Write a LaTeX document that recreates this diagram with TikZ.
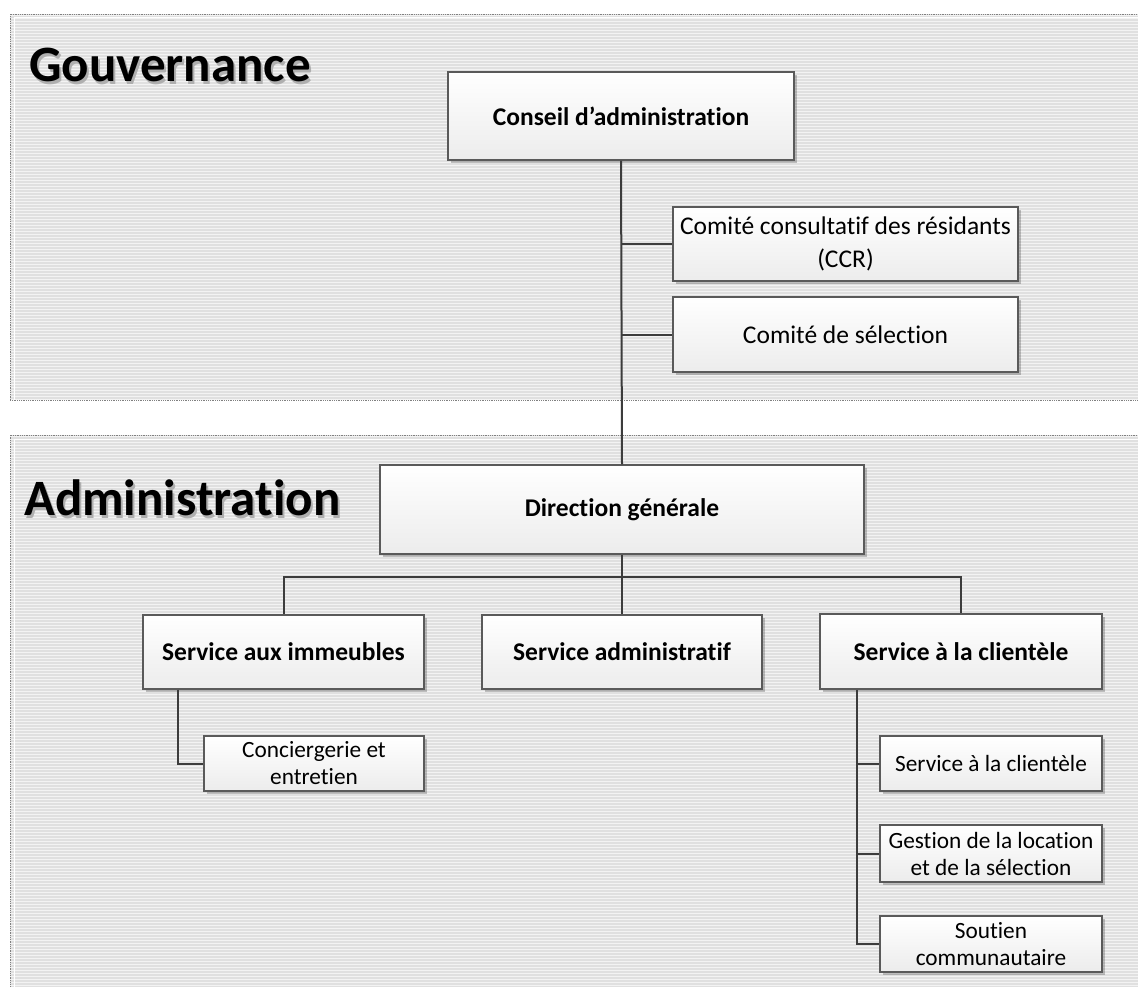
\documentclass[tikz,border=0pt]{standalone}
\usepackage{fontspec}
\setmainfont{Carlito}[Ligatures={NoCommon}]
\usetikzlibrary{shadows}
\definecolor{panelbg}{RGB}{224,224,224}
\definecolor{stripe}{RGB}{243,243,243}
\definecolor{boxline}{RGB}{90,90,90}
\definecolor{conn}{RGB}{60,60,60}
\definecolor{titleshadow}{RGB}{175,175,175}
\tikzset{
  orgbox/.style={draw=boxline, line width=1.1pt, top color=white, bottom color={rgb,255:red,236;green,236;blue,236},
    drop shadow={shadow xshift=3pt, shadow yshift=-3pt, opacity=0.22, fill=black},
    align=center, inner sep=2pt, text=black},
  bigbox/.style={orgbox, font=\fontsize{25.5}{30}\selectfont\bfseries},
  combox/.style={orgbox, font=\fontsize{25.5}{33}\selectfont},
  smallbox/.style={orgbox, font=\fontsize{23.3}{27}\selectfont},
  link/.style={draw=conn, line width=2pt},
  paneltitle/.style={font=\fontsize{51}{58}\selectfont\bfseries, anchor=base west, inner sep=0pt}
}
\begin{document}
\begin{tikzpicture}[x=1pt,y=-1pt]
\useasboundingbox (0,0) rectangle (1138,987);
\fill[white] (0,0) rectangle (1138,987);
% panels
\foreach \ya/\yb in {14/400, 435/990}{
  \fill[panelbg] (10,\ya) rectangle (1140,\yb);
  \begin{scope}
    \clip (10,\ya) rectangle (1140,\yb);
    \foreach \k in {0,3,...,560}{
      \draw[stripe, line width=1.5pt] (10,\ya+\k+1.5) -- (1140,\ya+\k+1.5);
    }
  \end{scope}
  \draw[gray, line width=0.8pt, densely dotted] (10,\yb) -- (10,\ya) -- (1140,\ya);
  \draw[white, line width=1pt] (14,\yb) -- (14,\ya+4) -- (1140,\ya+4);
}
\draw[gray, line width=0.8pt, densely dotted] (10,400) -- (1140,400);
% titles
\node[paneltitle, text=titleshadow] (tgovs) at (31,85) {Gouvernance};
\node[paneltitle] (tgov) at (29,82) {Gouvernance};
\node[paneltitle, text=titleshadow] (tadms) at (26,518) {Administration};
\node[paneltitle] (tadm) at (24,515) {Administration};
% boxes
\node[bigbox, minimum width=346pt, minimum height=88pt] (ca) at (621,116) {Conseil d’administration};
\node[combox, minimum width=345pt, minimum height=74pt] (ccr) at (845.5,244) {Comité consultatif des résidants\\(CCR)};
\node[combox, minimum width=345pt, minimum height=75pt] (cs) at (845.5,334.5) {Comité de sélection};
\node[bigbox, minimum width=484pt, minimum height=89pt] (dg) at (622,509.5) {Direction générale};
\node[bigbox, minimum width=281pt, minimum height=74pt] (si) at (283.5,652) {Service aux immeubles};
\node[bigbox, minimum width=280pt, minimum height=74pt] (sa) at (622,652) {Service administratif};
\node[bigbox, minimum width=282pt, minimum height=75pt] (sc) at (961,651.5) {Service à la clientèle};
\node[smallbox, minimum width=220pt, minimum height=55pt] (ce) at (314,763.5) {Conciergerie et\\entretien};
\node[smallbox, minimum width=222pt, minimum height=55pt] (sc1) at (991,763.5) {Service à la clientèle};
\node[smallbox, minimum width=222pt, minimum height=57pt] (gl) at (991,853.5) {Gestion de la location\\et de la sélection};
\node[smallbox, minimum width=222pt, minimum height=56pt] (so) at (991,944) {Soutien\\communautaire};
% connectors
\coordinate (bus) at (622,577);
\draw[link] (ca.south) -- (dg.north);
\draw[link] (622,244) -- (ccr.west);
\draw[link] (622,334.5) -- (cs.west);
\draw[link] (dg.south) -- (bus);
\draw[link] (si.north) |- (bus) -| (sc.north);
\draw[link] (bus) -- (sa.north);
\draw[link] (si.south -| 178,0) |- (ce.west);
\draw[link] (sc.south -| 857,0) |- (so.west);
\draw[link] (857,763.5) -- (sc1.west);
\draw[link] (857,853.5) -- (gl.west);
\end{tikzpicture}
\end{document}
